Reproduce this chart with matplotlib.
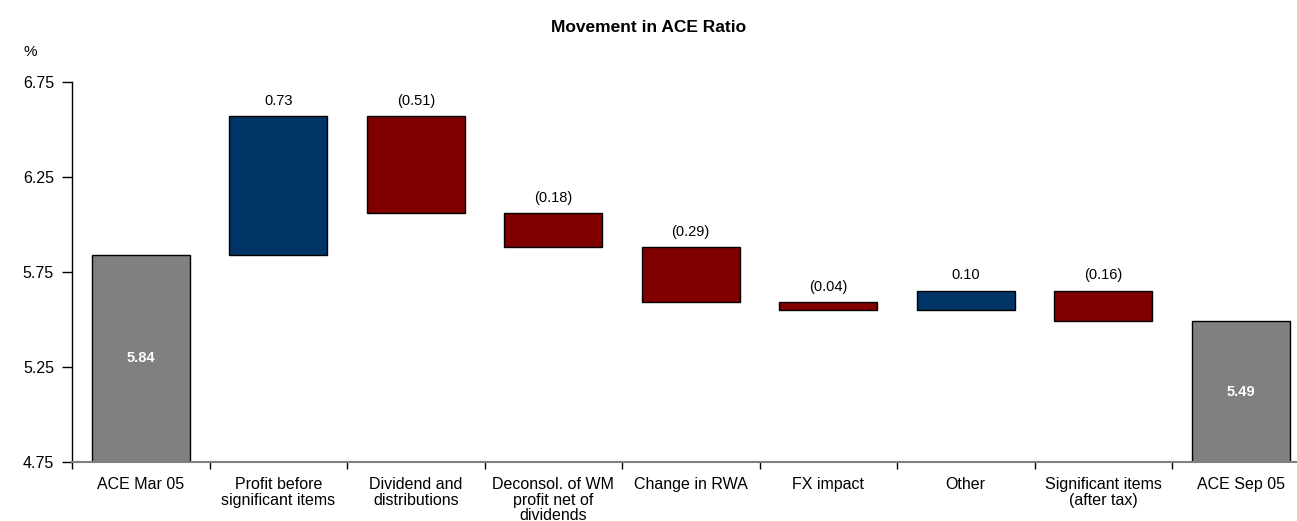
import matplotlib.pyplot as plt

plt.rcParams['font.family'] = ['Liberation Sans', 'DejaVu Sans']

# 数据
categories = ["ACE Mar 05", "Profit before\nsignificant items", "Dividend and\ndistributions",
              "Deconsol. of WM\nprofit net of\ndividends", "Change in RWA", "FX impact",
              "Other", "Significant items\n(after tax)", "ACE Sep 05"]
start_value = 5.84
changes = [0.73, -0.51, -0.18, -0.29, -0.04, 0.10, -0.16]
end_value = 5.49

y_min = 4.75
y_ticks = [4.75, 5.25, 5.75, 6.25, 6.75]

grey = '#808080'
blue = '#003366'
red = '#800000'

fig = plt.figure(figsize=(12.97, 5.21), dpi=100)
ax = fig.add_axes([72 / 1297, 59 / 521, 1237.5 / 1297, 380 / 521])

w = 0.71
# 起始柱
ax.bar(0, start_value - y_min, bottom=y_min, width=w, color=grey, edgecolor='black', linewidth=1)
ax.text(0, (start_value + y_min) / 2, f"{start_value:.2f}", ha='center', va='center',
        color='white', fontsize=10.5, fontweight='bold')

level = start_value
for i, c in enumerate(changes, start=1):
    low = min(level, level + c)
    ax.bar(i, abs(c), bottom=low, width=w, color=blue if c > 0 else red,
           edgecolor='black', linewidth=1)
    label = f"{c:.2f}" if c > 0 else f"({abs(c):.2f})"
    ax.text(i, low + abs(c) + 0.045, label, ha='center', va='bottom', fontsize=10.5)
    level += c

# 结束柱
n = len(categories) - 1
ax.bar(n, end_value - y_min, bottom=y_min, width=w, color=grey, edgecolor='black', linewidth=1)
ax.text(n, (end_value + y_min) / 2, f"{end_value:.2f}", ha='center', va='center',
        color='white', fontsize=10.5, fontweight='bold')

ax.set_xlim(-0.5, n + 0.5)
ax.set_ylim(y_min, 6.75)
ax.set_yticks(y_ticks)
ax.set_yticklabels([f"{t:.2f}" for t in y_ticks], fontsize=11.5)
ax.set_xticks(range(len(categories)))
ax.set_xticklabels(categories, fontsize=11.5, linespacing=1.05)
ax.tick_params(axis='x', length=0, pad=11)
ax.tick_params(axis='y', length=7, width=1, pad=6)
ax.set_xticks([i + 0.5 for i in range(-1, n + 1)], minor=True)
ax.tick_params(axis='x', which='minor', length=5, width=1, color='black')

ax.spines['top'].set_visible(False)
ax.spines['right'].set_visible(False)
ax.spines['bottom'].set_color(grey)
ax.spines['bottom'].set_linewidth(1.5)
ax.spines['left'].set_linewidth(1)

fig.text(0.5, 1 - 27 / 521, "Movement in ACE Ratio", ha='center', va='center',
         fontsize=12.5, fontweight='bold')
fig.text(30 / 1297, 1 - 52 / 521, "%", ha='center', va='center', fontsize=11)

plt.savefig("out.png", dpi=100)
